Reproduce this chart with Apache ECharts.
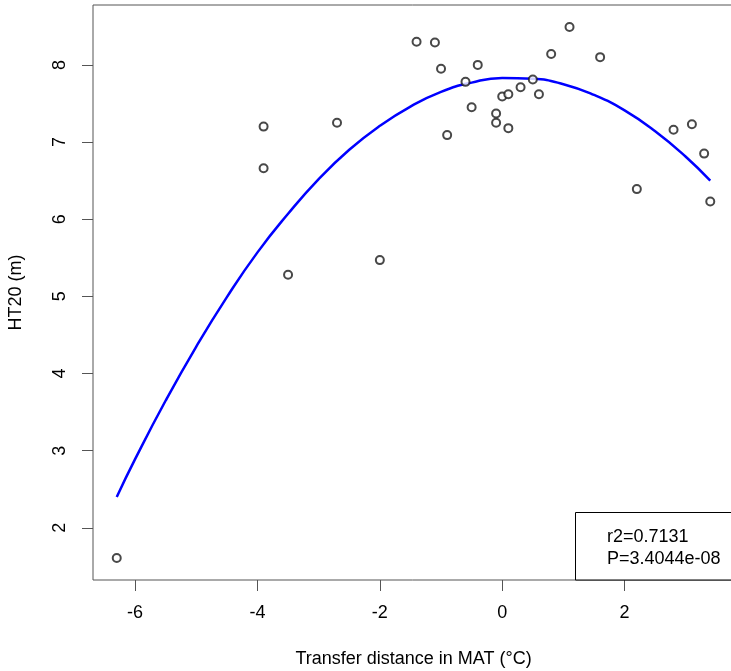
<!DOCTYPE html>
<html>
<head>
<meta charset="utf-8">
<script src="https://cdn.jsdelivr.net/npm/echarts@6/dist/echarts.min.js"></script>
<style>html,body{margin:0;padding:0;background:#fff;}#c{width:731px;height:671px;}</style>
</head>
<body>
<div id="c"></div>
<script>
// Observed points: transfer distance in MAT (°C) and HT20 (m)
var pointX = [-6.3, -3.9, -3.9, -3.5, -2.7, -2.0, -1.4, -1.1, -1.0, -0.9, -0.6, -0.5, -0.4, -0.1, -0.1, 0.0, 0.1, 0.1, 0.3, 0.5, 0.6, 0.8, 1.1, 1.6, 2.2, 2.8, 3.1, 3.3, 3.4];
var pointY = [1.61, 7.20, 6.66, 5.28, 7.25, 5.47, 8.30, 8.29, 7.95, 7.09, 7.78, 7.45, 8.00, 7.37, 7.25, 7.59, 7.62, 7.18, 7.71, 7.81, 7.62, 8.14, 8.49, 8.10, 6.39, 7.16, 7.23, 6.85, 6.23];
var fitX = [-6.3, -6.0, -5.5, -5.0, -4.5, -4.0, -3.5, -3.0, -2.5, -2.0, -1.5, -1.0, -0.5, 0.0, 0.5, 1.0, 1.5, 2.0, 2.5, 3.0, 3.4];
var fitY = [2.40, 2.89, 3.65, 4.35, 4.99, 5.57, 6.07, 6.52, 6.90, 7.21, 7.46, 7.65, 7.77, 7.83, 7.82, 7.75, 7.61, 7.41, 7.14, 6.81, 6.50];
var xTicks = [-6, -4, -2, 0, 2];
var yTicks = [2, 3, 4, 5, 6, 7, 8];
var statLines = ['r2=0.7131', 'P=3.4044e-08'];

var FONT = 'Liberation Sans, Arial, sans-serif';
var chart = echarts.init(document.getElementById('c'), null, {renderer: 'canvas'});

var scatterData = pointX.map(function (x, i) { return [x, pointY[i]]; });
var lineData = fitX.map(function (x, i) { return [x, fitY[i]]; });

chart.setOption({
  animation: false,
  backgroundColor: '#ffffff',
  grid: {
    left: 93, top: 5, right: -3, bottom: 91,
    outerBoundsMode: 'none', containLabel: false,
    show: true, borderColor: '#555555', borderWidth: 1, backgroundColor: 'transparent'
  },
  xAxis: {
    type: 'value', min: -6.688, max: 3.788,
    name: 'Transfer distance in MAT (°C)', nameLocation: 'middle', nameGap: 70,
    nameTextStyle: {fontFamily: FONT, fontSize: 18, color: '#000'},
    axisLine: {show: false, onZero: false},
    axisTick: {show: true, customValues: xTicks, length: 11, lineStyle: {color: '#555555', width: 1}},
    axisLabel: {customValues: xTicks, margin: 24, fontFamily: FONT, fontSize: 18, color: '#000'},
    splitLine: {show: false}
  },
  yAxis: {
    type: 'value', min: 1.324, max: 8.776,
    name: 'HT20 (m)', nameLocation: 'middle', nameGap: 68, nameRotate: 90,
    nameTextStyle: {fontFamily: FONT, fontSize: 18, color: '#000'},
    axisLine: {show: false, onZero: false},
    axisTick: {show: true, customValues: yTicks, length: 11, lineStyle: {color: '#555555', width: 1}},
    axisLabel: {customValues: yTicks, margin: 24, rotate: 90, fontFamily: FONT, fontSize: 18, color: '#000'},
    splitLine: {show: false}
  },
  series: [
    {
      type: 'line', data: lineData, showSymbol: false, smooth: true,
      lineStyle: {color: '#0000ff', width: 2.5}, z: 2
    },
    {
      type: 'scatter', data: scatterData, symbol: 'emptyCircle', symbolSize: 8,
      itemStyle: {color: '#1a1a1a', borderColor: '#1a1a1a', borderWidth: 0.9}, z: 3
    }
  ],
  graphic: [
    {
      type: 'rect', shape: {x: 575.5, y: 512.5, width: 200, height: 67.5},
      style: {fill: '#ffffff', stroke: '#000000', lineWidth: 1}, z: 10
    },
    {
      type: 'text', x: 607, y: 537,
      style: {text: statLines[0], fontFamily: FONT, fontSize: 18, fill: '#000', verticalAlign: 'middle'}, z: 11
    },
    {
      type: 'text', x: 607, y: 559,
      style: {text: statLines[1], fontFamily: FONT, fontSize: 18, fill: '#000', verticalAlign: 'middle'}, z: 11
    }
  ]
});
</script>
</body>
</html>
